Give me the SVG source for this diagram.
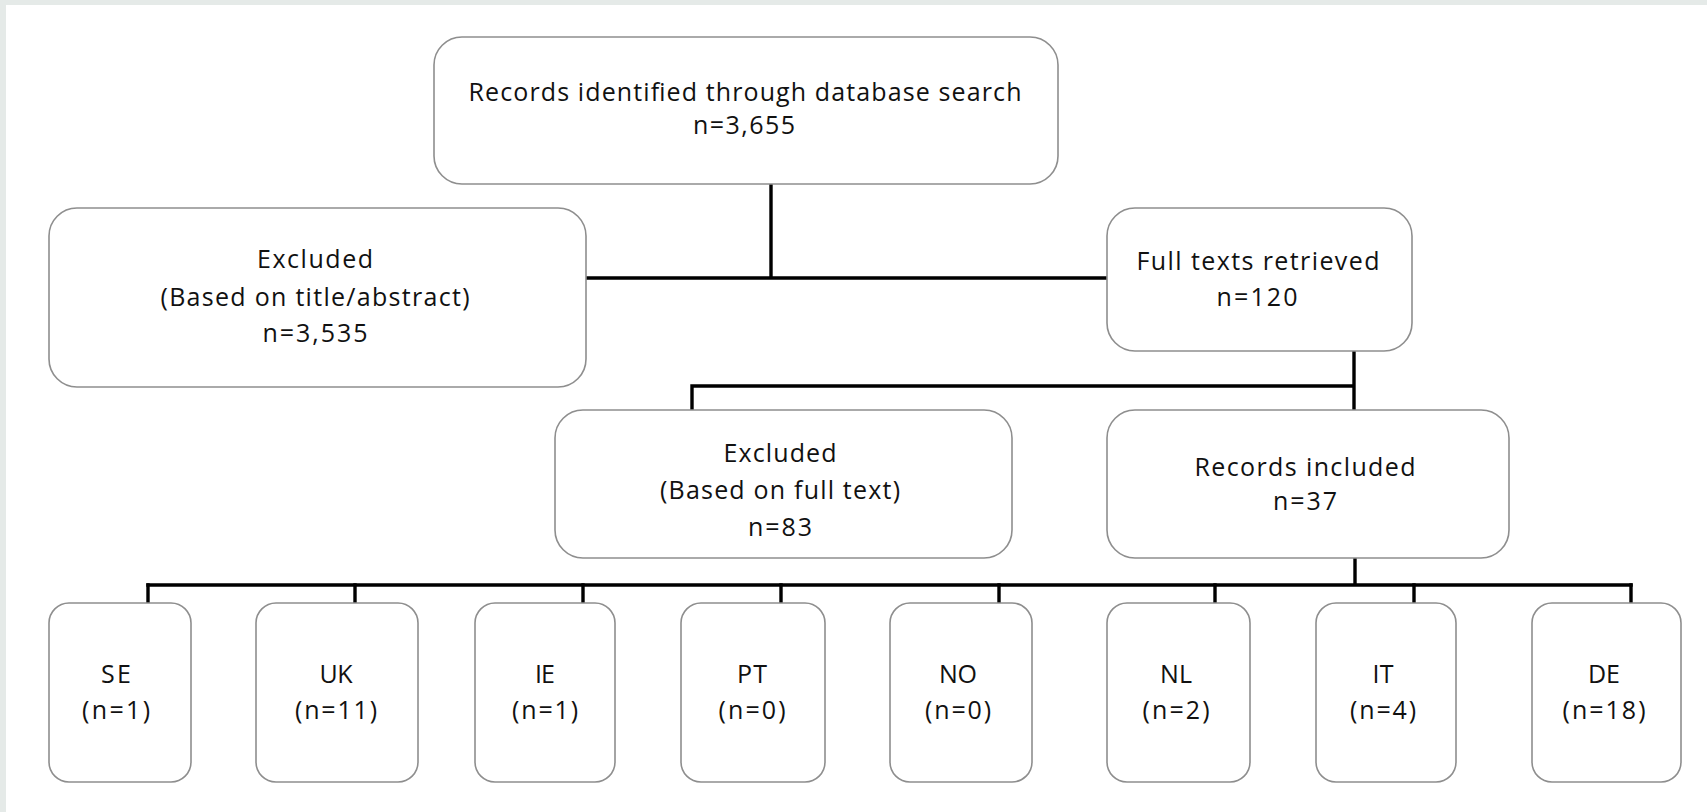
<svg xmlns="http://www.w3.org/2000/svg" width="1707" height="812" viewBox="0 0 1707 812">
<style>
.box{fill:#fff;stroke:#8e8e8e;stroke-width:1.6}
.t{font-family:"Open Sans","Liberation Sans",sans-serif;font-size:25px;font-weight:500;fill:#111;text-anchor:middle}
.ln{fill:none;stroke:#000;stroke-width:3.4;stroke-linecap:square}
</style>
<rect x="0" y="0" width="1707" height="812" fill="#e5eae8"/>
<rect x="6" y="5" width="1701" height="807" fill="#fff"/>
<g id="connectors">
<path class="ln" d="M771 185 V278 M587 278 H1106"/>
<path class="ln" d="M1354 352 V409 M692 386 H1354 M692 386 V409"/>
<path class="ln" d="M1355 559 V585 M148 585 H1631"/>
<path class="ln" d="M148 585 V602 M355 585 V602 M583 585 V602 M781 585 V602 M999 585 V602 M1215 585 V602 M1414 585 V602 M1631 585 V602"/>
</g>
<g id="n-records">
<rect class="box" x="434" y="37" width="624" height="147" rx="28"/>
<text class="t" x="745" y="101" textLength="553" lengthAdjust="spacing">Records identified through database search</text>
<text class="t" x="744" y="134" textLength="102" lengthAdjust="spacing">n=3,655</text>
</g>
<g id="n-excluded1">
<rect class="box" x="49" y="208" width="537" height="179" rx="28"/>
<text class="t" x="315" y="268" textLength="116" lengthAdjust="spacing">Excluded</text>
<text class="t" x="315" y="306" textLength="309" lengthAdjust="spacing">(Based on title/abstract)</text>
<text class="t" x="315" y="342" textLength="105" lengthAdjust="spacing">n=3,535</text>
</g>
<g id="n-fulltexts">
<rect class="box" x="1107" y="208" width="305" height="143" rx="28"/>
<text class="t" x="1258" y="270" textLength="243" lengthAdjust="spacing">Full texts retrieved</text>
<text class="t" x="1257" y="306" textLength="81" lengthAdjust="spacing">n=120</text>
</g>
<g id="n-excluded2">
<rect class="box" x="555" y="410" width="457" height="148" rx="28"/>
<text class="t" x="780" y="462" textLength="113" lengthAdjust="spacing">Excluded</text>
<text class="t" x="780" y="499" textLength="240" lengthAdjust="spacing">(Based on full text)</text>
<text class="t" x="780" y="536" textLength="64" lengthAdjust="spacing">n=83</text>
</g>
<g id="n-included">
<rect class="box" x="1107" y="410" width="402" height="148" rx="28"/>
<text class="t" x="1305" y="476" textLength="221" lengthAdjust="spacing">Records included</text>
<text class="t" x="1305" y="510" textLength="64" lengthAdjust="spacing">n=37</text>
</g>
<g id="n-se">
<rect class="box" x="49" y="603" width="142" height="179" rx="20"/>
<text class="t" x="116" y="683" textLength="30" lengthAdjust="spacing">SE</text>
<text class="t" x="116" y="719" textLength="68" lengthAdjust="spacing">(n=1)</text>
</g>
<g id="n-uk">
<rect class="box" x="256" y="603" width="162" height="179" rx="20"/>
<text class="t" x="336" y="683" textLength="33" lengthAdjust="spacing">UK</text>
<text class="t" x="336" y="719" textLength="82" lengthAdjust="spacing">(n=11)</text>
</g>
<g id="n-ie">
<rect class="box" x="475" y="603" width="140" height="179" rx="20"/>
<text class="t" x="545" y="683" textLength="20" lengthAdjust="spacing">IE</text>
<text class="t" x="545" y="719" textLength="66" lengthAdjust="spacing">(n=1)</text>
</g>
<g id="n-pt">
<rect class="box" x="681" y="603" width="144" height="179" rx="20"/>
<text class="t" x="752" y="683" textLength="30" lengthAdjust="spacing">PT</text>
<text class="t" x="752" y="719" textLength="67" lengthAdjust="spacing">(n=0)</text>
</g>
<g id="n-no">
<rect class="box" x="890" y="603" width="142" height="179" rx="20"/>
<text class="t" x="958" y="683" textLength="38" lengthAdjust="spacing">NO</text>
<text class="t" x="958" y="719" textLength="66" lengthAdjust="spacing">(n=0)</text>
</g>
<g id="n-nl">
<rect class="box" x="1107" y="603" width="143" height="179" rx="20"/>
<text class="t" x="1176" y="683" textLength="32" lengthAdjust="spacing">NL</text>
<text class="t" x="1176" y="719" textLength="67" lengthAdjust="spacing">(n=2)</text>
</g>
<g id="n-it">
<rect class="box" x="1316" y="603" width="140" height="179" rx="20"/>
<text class="t" x="1383" y="683" textLength="21" lengthAdjust="spacing">IT</text>
<text class="t" x="1383" y="719" textLength="66" lengthAdjust="spacing">(n=4)</text>
</g>
<g id="n-de">
<rect class="box" x="1532" y="603" width="149" height="179" rx="20"/>
<text class="t" x="1604" y="683" textLength="32" lengthAdjust="spacing">DE</text>
<text class="t" x="1604" y="719" textLength="83" lengthAdjust="spacing">(n=18)</text>
</g>
</svg>
